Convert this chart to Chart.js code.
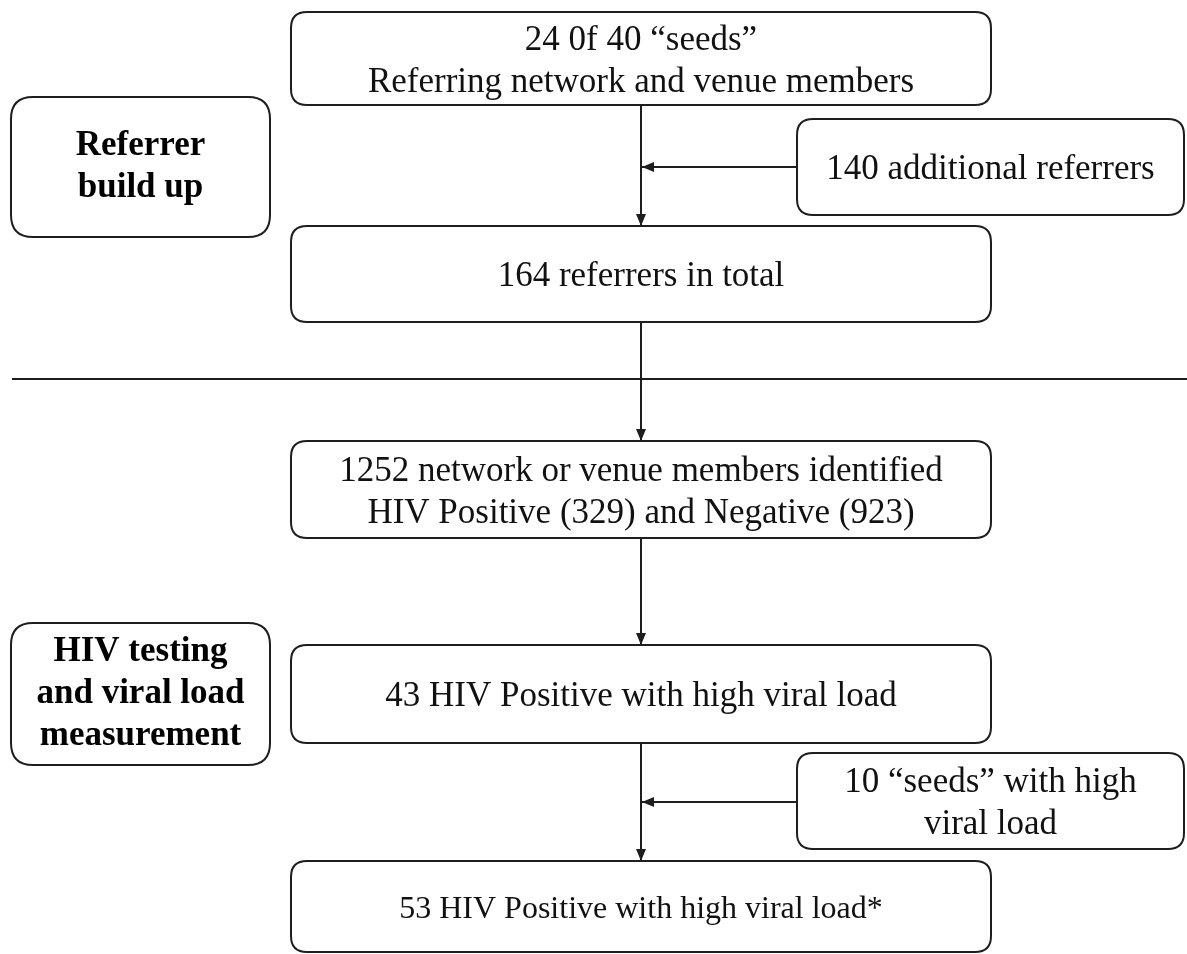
<!DOCTYPE html>
<html>
<head>
<meta charset="utf-8">
<script src="https://cdn.jsdelivr.net/npm/chart.js@4/dist/chart.umd.min.js"></script>
<style>
  html, body { margin: 0; padding: 0; background: #fff; }
  #flow { display: block; }
</style>
</head>
<body>
<canvas id="flow" width="1187" height="954"></canvas>
<script>
// Box texts
const mainSteps = [
  ['24 0f 40 \u201cseeds\u201d', 'Referring network and venue members'],
  ['164 referrers in total'],
  ['1252 network or venue members identified', 'HIV Positive (329) and Negative (923)'],
  ['43 HIV Positive with high viral load'],
  ['53 HIV Positive with high viral load*']
];
const sideInputs = [
  ['140 additional referrers'],
  ['10 \u201cseeds\u201d with high', 'viral load']
];
const stageLabels = [
  ['Referrer', 'build up'],
  ['HIV testing', 'and viral load', 'measurement']
];

// Layout (in the same units as the hidden x / y scales)
const mainX = [291, 991];
const mainTop = [12, 226, 441, 645, 861];
const mainBottom = [105, 322, 538, 743, 952];
const mainFont = [35, 35, 35, 35, 32];
const sideX = [797, 1184];
const sideTop = [119, 753];
const sideBottom = [215, 849];
const stageX = [11, 270];
const stageTop = [97, 623];
const stageBottom = [237, 765];
const flowX = 641;
const sideArrowY = [167, 802];
const dividerY = 379;

const ink = '#1e1e1e';
const serif = '"Liberation Serif", "Times New Roman", serif';

// connectors between main boxes + side inputs + divider
const datasets = [];
for (let i = 0; i < mainTop.length - 1; i++) {
  datasets.push({
    data: [{ x: flowX, y: mainBottom[i] }, { x: flowX, y: mainTop[i + 1] }],
    arrow: true
  });
}
sideArrowY.forEach(y => {
  datasets.push({
    data: [{ x: sideX[0], y: y }, { x: flowX + 1, y: y }],
    arrow: true
  });
});
datasets.push({ data: [{ x: 12, y: dividerY }, { x: 1187, y: dividerY }], arrow: false });
datasets.forEach(d => {
  d.showLine = true;
  d.borderColor = ink;
  d.borderWidth = 2;
  d.pointRadius = 0;
  d.pointHoverRadius = 0;
});

function roundBox(ctx, x0, y0, x1, y1, r) {
  ctx.beginPath();
  ctx.moveTo(x0 + r, y0);
  ctx.lineTo(x1 - r, y0);
  ctx.quadraticCurveTo(x1, y0, x1, y0 + r);
  ctx.lineTo(x1, y1 - r);
  ctx.quadraticCurveTo(x1, y1, x1 - r, y1);
  ctx.lineTo(x0 + r, y1);
  ctx.quadraticCurveTo(x0, y1, x0, y1 - r);
  ctx.lineTo(x0, y0 + r);
  ctx.quadraticCurveTo(x0, y0, x0 + r, y0);
  ctx.closePath();
  ctx.stroke();
}

function boxText(ctx, lines, cx, cy, size, bold) {
  const lh = 42;
  ctx.font = (bold ? 'bold ' : '') + size + 'px ' + serif;
  ctx.textAlign = 'center';
  ctx.textBaseline = 'middle';
  ctx.fillStyle = bold ? '#000' : '#111';
  const start = cy - (lines.length - 1) * lh / 2;
  lines.forEach((t, i) => ctx.fillText(t, cx, start + i * lh));
}

const flowBoxes = {
  id: 'flowBoxes',
  afterDatasetsDraw(chart) {
    const ctx = chart.ctx;
    const xs = chart.scales.x, ys = chart.scales.y;
    const px = v => xs.getPixelForValue(v);
    const py = v => ys.getPixelForValue(v);
    ctx.save();
    ctx.strokeStyle = ink;
    ctx.lineWidth = 2;

    mainSteps.forEach((lines, i) => {
      roundBox(ctx, px(mainX[0]), py(mainTop[i]), px(mainX[1]), py(mainBottom[i]), 16);
      boxText(ctx, lines, px((mainX[0] + mainX[1]) / 2), py((mainTop[i] + mainBottom[i]) / 2) + 3, mainFont[i], false);
    });
    sideInputs.forEach((lines, i) => {
      roundBox(ctx, px(sideX[0]), py(sideTop[i]), px(sideX[1]), py(sideBottom[i]), 16);
      boxText(ctx, lines, px((sideX[0] + sideX[1]) / 2), py((sideTop[i] + sideBottom[i]) / 2) + 3, 35, false);
    });
    stageLabels.forEach((lines, i) => {
      roundBox(ctx, px(stageX[0]), py(stageTop[i]), px(stageX[1]), py(stageBottom[i]), 22);
      boxText(ctx, lines, px((stageX[0] + stageX[1]) / 2), py((stageTop[i] + stageBottom[i]) / 2), 35, true);
    });

    // arrow heads
    ctx.fillStyle = ink;
    chart.data.datasets.forEach((ds, di) => {
      if (!ds.arrow) return;
      const pts = chart.getDatasetMeta(di).data;
      const a = pts[pts.length - 2], b = pts[pts.length - 1];
      const ang = Math.atan2(b.y - a.y, b.x - a.x);
      const len = 12, half = 5;
      ctx.save();
      ctx.translate(b.x, b.y);
      ctx.rotate(ang);
      ctx.beginPath();
      ctx.moveTo(0, 0);
      ctx.lineTo(-len, -half);
      ctx.lineTo(-len, half);
      ctx.closePath();
      ctx.fill();
      ctx.restore();
    });
    ctx.restore();
  }
};

new Chart(document.getElementById('flow').getContext('2d'), {
  type: 'scatter',
  data: { datasets: datasets },
  options: {
    responsive: false,
    animation: false,
    layout: { padding: 0 },
    scales: {
      x: { type: 'linear', min: 0, max: 1187, display: false },
      y: { type: 'linear', min: 0, max: 954, reverse: true, display: false }
    },
    plugins: {
      legend: { display: false },
      tooltip: { enabled: false }
    },
    events: []
  },
  plugins: [flowBoxes]
});
</script>
</body>
</html>
